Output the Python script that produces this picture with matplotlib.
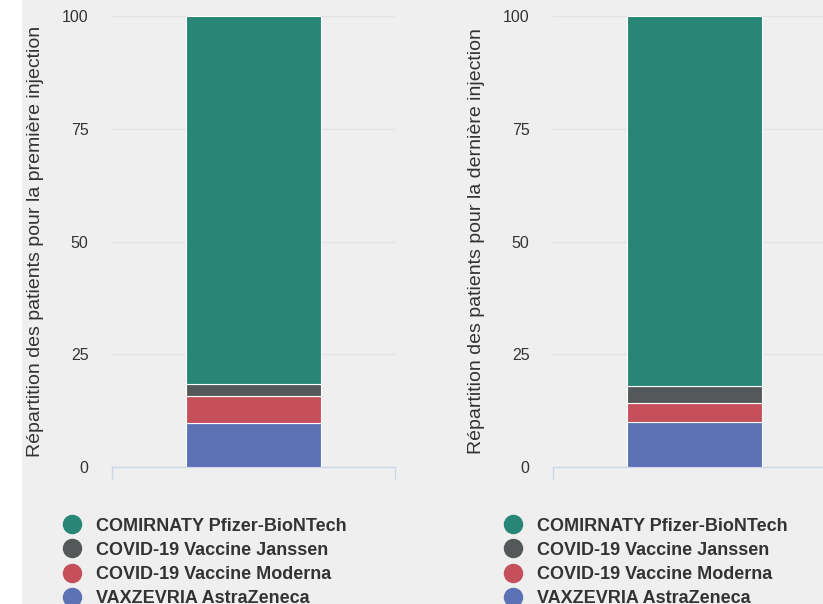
import matplotlib.pyplot as plt
from matplotlib.lines import Line2D

# Vaccine names (stack order, bottom to top)
vaccines = ['VAXZEVRIA AstraZeneca', 'COVID-19 Vaccine Moderna',
            'COVID-19 Vaccine Janssen', 'COMIRNATY Pfizer-BioNTech']
colors = ['#5b72b5', '#c64f5c', '#545858', '#278676']

# Share of patients (%) per vaccine
first_dose = [9.7, 6.0, 2.8, 81.5]
last_dose = [10.0, 4.3, 3.6, 82.1]

panel_titles = ['Répartition des patients pour la première injection',
                'Répartition des patients pour la dernière injection']
yticks = [0, 25, 50, 75, 100]

plt.rcParams['font.family'] = ['Liberation Sans', 'DejaVu Sans']

fig = plt.figure(figsize=(8.23, 6.04), dpi=100)
fig.patch.set_facecolor('#efefef')
# white strip on the far left
fig.patches.append(plt.Rectangle((0, 0), 22 / 823, 1, transform=fig.transFigure,
                                 facecolor='white', edgecolor='none', zorder=-1))

lefts = [112 / 823, 553 / 823]
for left, values, label in zip(lefts, [first_dose, last_dose], panel_titles):
    ax = fig.add_axes([left, 0.2268, 283 / 823, 0.7467])
    ax.set_facecolor('#efefef')
    bottom = 0
    for val, col in zip(values, colors):
        ax.bar(0, val, bottom=bottom, width=0.475, color=col,
               edgecolor='white', linewidth=0.8, zorder=3)
        bottom += val
    ax.set_xlim(-0.5, 0.5)
    ax.set_ylim(0, 100)
    ax.set_yticks(yticks)
    ax.set_yticklabels([str(t) for t in yticks], fontsize=11.5, color='#333333')
    ax.tick_params(axis='y', length=0, pad=17)
    ax.grid(axis='y', color='#e4e4e4', linewidth=1, zorder=0)
    ax.set_xticks([-0.5, 0.5])
    ax.set_xticklabels(['', ''])
    ax.tick_params(axis='x', direction='out', length=9.5, color='#ccd6eb', width=1)
    for side in ['top', 'right', 'left']:
        ax.spines[side].set_visible(False)
    ax.spines['bottom'].set_color('#ccd6eb')
    ax.spines['bottom'].set_linewidth(1)
    ax.set_ylabel(label, fontsize=14, color='#333333')
    ax.yaxis.set_label_coords(-0.242, 0.5)

    handles = [Line2D([], [], marker='o', linestyle='none', markersize=13,
                      markerfacecolor=c, markeredgecolor=c)
               for c in colors[::-1]]
    leg = fig.legend(handles, vaccines[::-1], loc='upper left',
                     bbox_to_anchor=(left - 58 / 823, 0.158),
                     frameon=False, fontsize=13, labelspacing=0.4,
                     handlelength=1.0, handletextpad=0.8, borderpad=0)
    for t in leg.get_texts():
        t.set_fontweight('bold')
        t.set_color('#333333')

fig.savefig('out.png', dpi=100, facecolor=fig.get_facecolor())
